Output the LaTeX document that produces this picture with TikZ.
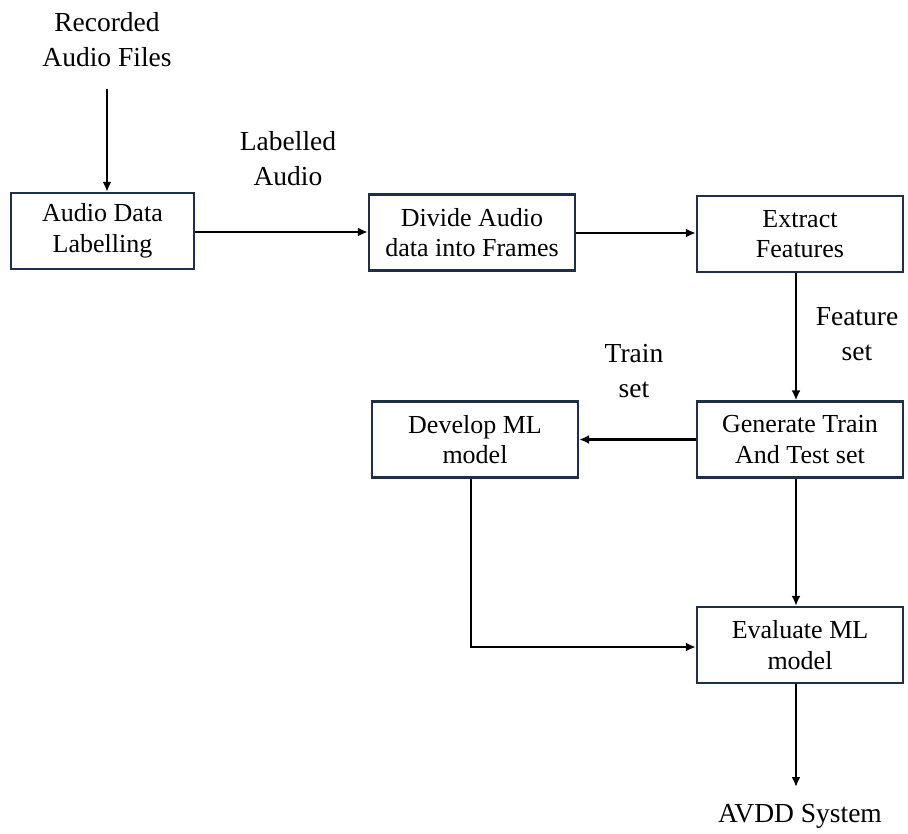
\documentclass[tikz,border=0pt]{standalone}
\usepackage{fontspec}
\setmainfont{Liberation Serif}
\usetikzlibrary{arrows.meta}
\definecolor{boxline}{RGB}{30,48,72}
\tikzset{
  procbox/.style={draw=boxline, line width=2.3pt, minimum width=206pt, minimum height=76pt,
    align=center, inner sep=0pt, font=\fontsize{26}{30.5}\selectfont},
  lbl/.style={align=center, inner sep=0pt, font=\fontsize{27.5}{35}\selectfont},
  flow/.style={line width=2.4pt, -{Latex[length=10pt,width=9pt]}},
  plain/.style={line width=2.4pt}
}
\begin{document}
\begin{tikzpicture}[x=1pt,y=-1pt]
\useasboundingbox (0,0) rectangle (908,834);
% processing steps
\node[procbox, minimum width=183pt] (label) at (102.5,231) {Audio Data\\Labelling};
\node[procbox] (divide) at (472,232.5) {Divide Audio\\data into Frames};
\node[procbox] (extract) at (800,234) {Extract\\Features};
\node[procbox] (gen) at (800,439.5) {Generate Train\\And Test set};
\node[procbox] (dev) at (475,439.5) {Develop ML\\model};
\node[procbox] (eval) at (800,645) {Evaluate ML\\model};
% free texts
\node[lbl] (rec) at (107,40) {Recorded\\Audio Files};
\node[lbl] (lab) at (288,159) {Labelled\\Audio};
\node[lbl] (feat) at (857,334) {Feature\\set};
\node[lbl] (train) at (634,371) {Train\\set};
\node[lbl] (avdd) at (800,816) {AVDD System};
\coordinate (recEnd) at (107,89);
\coordinate (sysEnd) at (796,787);
\coordinate (bend) at (471,647);
% connectors
\draw[flow] (recEnd) -- (recEnd |- label.north);
\draw[flow] (label.east |- 0,232) -- (divide.west |- 0,232);
\draw[flow] (divide.east |- 0,233) -- (extract.west |- 0,233);
\draw[flow] (extract.south -| 796,0) -- (gen.north -| 796,0);
\draw[flow] (gen.west) -- (dev.east);
\draw[flow] (gen.south -| 796,0) -- (eval.north -| 796,0);
\draw[plain] (dev.south -| bend) -- (bend);
\draw[flow] ([xshift=-1.2pt]bend) -- (eval.west |- bend);
\draw[flow] (eval.south -| sysEnd) -- (sysEnd);
\end{tikzpicture}
\end{document}
